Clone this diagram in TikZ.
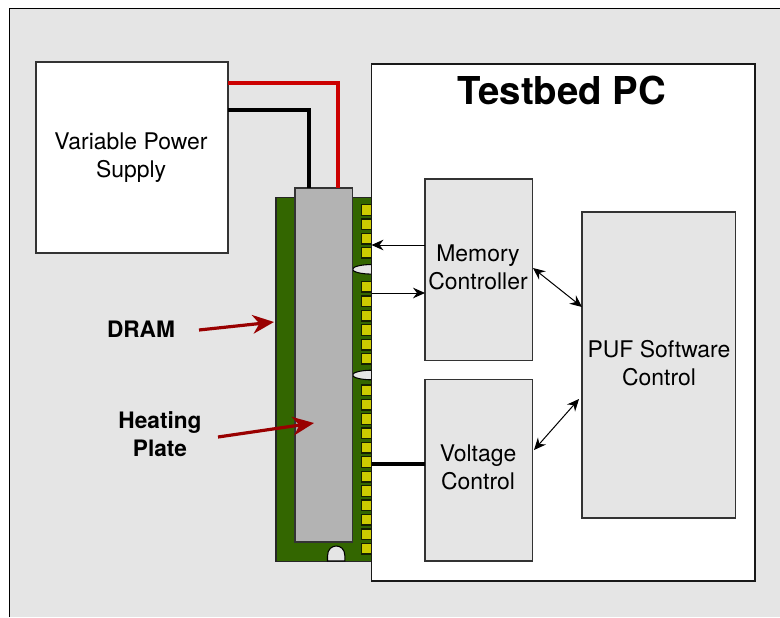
\documentclass[tikz,border=0pt]{standalone}
\usepackage{fontspec}
\setmainfont{TeX Gyre Heros}
\usetikzlibrary{arrows.meta,calc}
\definecolor{bggray}{HTML}{E5E5E5}
\definecolor{pcbgreen}{HTML}{336600}
\definecolor{plategray}{HTML}{B3B3B3}
\definecolor{padyellow}{HTML}{CCCC00}
\definecolor{wirered}{HTML}{CC0000}
\definecolor{callred}{HTML}{990000}
\definecolor{padedge}{HTML}{142000}
\tikzset{
  box/.style={draw=black!80,line width=0.9pt,inner sep=0pt,outer sep=0pt,align=center,anchor=north west},
  whitebox/.style={box,fill=white},
  graybox/.style={box,fill=bggray},
  label/.style={font=\fontsize{17.2pt}{21pt}\selectfont,align=center,inner sep=0pt},
  boldlabel/.style={font=\fontsize{17pt}{21pt}\selectfont\bfseries,align=center,inner sep=0pt},
  pad/.style={draw=padedge,line width=1pt,fill=padyellow,minimum width=8pt,minimum height=8pt,inner sep=0pt,outer sep=0pt},
  notch/.style={draw=black,line width=0.8pt,fill=bggray},
  wire/.style={line width=2.5pt},
  sig/.style={line width=0.75pt,-{Stealth[length=9pt,width=8pt,inset=3pt]}},
  bisig/.style={line width=0.75pt,{Stealth[length=9pt,width=8pt,inset=3pt]}-{Stealth[length=9pt,width=8pt,inset=3pt]}},
  callout/.style={callred,line width=2.4pt,-{Stealth[length=16pt,width=14pt,inset=5pt]}}
}
\begin{document}
\begin{tikzpicture}[x=0.75pt,y=-0.75pt]
\clip (0,0) rectangle (780,617);
\fill[white] (0,0) rectangle (780,617);
\fill[bggray] (10,8) rectangle (780,617);
\draw[black,line width=0.7pt] (9.5,617) -- (9.5,8) -- (780,8);

% DRAM board
\node[box,fill=pcbgreen,draw=black!85,minimum width=96*0.75pt,minimum height=364*0.75pt] (pcb) at (276,197.5) {};
\foreach \i/\y in {1/210,2/224.3,3/238.7,4/252.7,5/286.7,6/301.3,7/315.7,8/330,9/344.7,10/358.7,
                   11/390.3,12/404.7,13/419,14/433.3,15/447.7,16/462,17/476.7,18/491,19/505.3,20/519.7,21/534.3,22/548.7}
  \node[pad] (pad\i) at (367,\y) {};
\draw[notch] (372,269.3) ellipse [x radius=19.5,y radius=4.8];
\draw[notch] (372,375) ellipse [x radius=19.5,y radius=4.8];
\draw[notch] (327.5,561) -- (327.5,556) .. controls (327.5,549) and (332,546) .. (336.2,546) .. controls (340.5,546) and (344.9,549) .. (344.9,556) -- (344.9,561) -- cycle;

% Heating plate
\node[box,fill=plategray,minimum width=57.5*0.75pt,minimum height=354*0.75pt] (plate) at (295,188) {};

% Main boxes
\node[whitebox,minimum width=192*0.75pt,minimum height=191*0.75pt] (power) at (36,62) {};
\node[label] (powertext) at (131,157.5) {Variable Power\\[-0.2pt]Supply};
\node[whitebox,draw=black!90,minimum width=383.5*0.75pt,minimum height=517*0.75pt] (pc) at (371.5,64) {};
\node[font=\fontsize{28.8pt}{32pt}\selectfont\bfseries,inner sep=0pt] (pctitle) at (562,91) {Testbed PC};
\node[graybox,minimum width=107.5*0.75pt,minimum height=181.5*0.75pt] (mem) at (425,179) {};
\node[label] (memtext) at (478,267) {Memory\\[-0.2pt]Controller};
\node[graybox,minimum width=107.5*0.75pt,minimum height=181.5*0.75pt] (volt) at (425,379.5) {};
\node[label] (volttext) at (478,467.5) {Voltage\\[-0.2pt]Control};
\node[graybox,minimum width=153.5*0.75pt,minimum height=306*0.75pt] (puf) at (582,212) {};
\node[label] (puftext) at (659,363) {PUF Software\\[-0.2pt]Control};

% Power wires
\draw[wire,wirered] (power.east |- 0,83) -- (338,83) -- (plate.north -| 338,0);
\draw[wire,black] (power.east |- 0,110) -- (309,110) -- (plate.north -| 309,0);

% Signal connectors
\draw[sig] (mem.west |- 0,245) -- (pc.west |- 0,245);
\draw[sig] (pc.west |- 0,293) -- (mem.west |- 0,293);
\draw[wire,black] (pc.west |- 0,464) -- (volt.west |- 0,464);
\draw[bisig] (533,268) -- (582,307);
\draw[bisig] (534,450) -- (579,399);

% Callouts
\node[boldlabel] (dram) at (141,329) {DRAM};
\node[boldlabel] (heat) at (160,434.5) {Heating\\[-0.2pt]Plate};
\coordinate (dramstart) at (199,330);
\coordinate (dramend) at (274,322);
\coordinate (heatstart) at (218,437);
\coordinate (heatend) at (314,423);
\draw[callout] (dramstart) -- (dramend);
\draw[callout] (heatstart) -- (heatend);
\end{tikzpicture}
\end{document}
